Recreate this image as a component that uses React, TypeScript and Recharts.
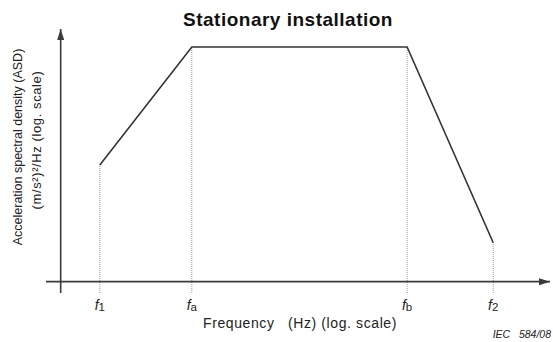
import React from 'react';
import { LineChart, Line, XAxis, YAxis, ReferenceLine } from 'recharts';

// frequency points f1, fa, fb, f2 (log units along the axis)
const bandNames = ['1', 'a', 'b', '2'];
const logFreq = [0.4, 1.34, 3.54, 4.42];
// ASD level at each point (log units)
const logAsd = [4.62, 9.29, 9.29, 1.54];

const data = logFreq.map((x, i) => ({ x, y: logAsd[i] }));

const font = '"Liberation Sans", Arial, sans-serif';
const axisColor = '#3a3a3a';

const FreqTick = (props: any) => {
  const { x, y, payload } = props;
  const i = logFreq.indexOf(payload.value);
  return (
    <text x={x} y={y + 17} textAnchor="middle" fontFamily={font} fill="#222">
      <tspan fontStyle="italic" fontSize={14}>f</tspan>
      <tspan fontSize={11.5} dy={1}>{bandNames[i]}</tspan>
    </text>
  );
};

const ArrowLine = (dir: 'right' | 'up') => (props: any) => {
  const { x1, y1, x2, y2 } = props;
  const tipX = dir === 'right' ? Math.max(x1, x2) : x1;
  const tipY = dir === 'up' ? Math.min(y1, y2) : y1;
  const head =
    dir === 'right'
      ? `${tipX},${tipY} ${tipX - 11},${tipY - 3.5} ${tipX - 11},${tipY + 3.5}`
      : `${tipX},${tipY} ${tipX - 3.5},${tipY + 11} ${tipX + 3.5},${tipY + 11}`;
  return (
    <g>
      <line x1={x1} y1={y1} x2={x2} y2={y2} stroke={axisColor} strokeWidth={1.6} />
      <polygon points={head} fill={axisColor} />
    </g>
  );
};

export default function App() {
  return (
    <div style={{ position: 'absolute', left: 0, top: 0, width: 553, height: 342, background: '#fff' }}>
      <LineChart width={553} height={342} data={data} margin={{ top: 29, right: 3, bottom: 19, left: 46 }}>
        <XAxis
          type="number"
          dataKey="x"
          domain={[-0.15, 5]}
          ticks={logFreq}
          allowDataOverflow
          axisLine={false}
          tickLine={false}
          tickSize={0}
          tickMargin={0}
          height={30}
          interval={0}
          tick={<FreqTick />}
        />
        <YAxis type="number" domain={[-0.45, 10]} allowDataOverflow hide />
        {logFreq.map((f, i) => (
          <ReferenceLine
            key={i}
            segment={[{ x: f, y: -0.45 }, { x: f, y: logAsd[i] }]}
            stroke="#9a9a9a"
            strokeWidth={1}
            strokeDasharray="1 1"
            ifOverflow="visible"
          />
        ))}
        <ReferenceLine
          segment={[{ x: -0.15, y: 0 }, { x: 5, y: 0 }]}
          ifOverflow="visible"
          shape={ArrowLine('right')}
        />
        <ReferenceLine
          segment={[{ x: 0, y: -0.45 }, { x: 0, y: 10 }]}
          ifOverflow="visible"
          shape={ArrowLine('up')}
        />
        <Line
          type="linear"
          dataKey="y"
          stroke="#333"
          strokeWidth={1.6}
          dot={false}
          activeDot={false}
          isAnimationActive={false}
        />
      </LineChart>
      <svg width={553} height={342} style={{ position: 'absolute', left: 0, top: 0, pointerEvents: 'none' }}>
        <text x={288} y={26} textAnchor="middle" fontFamily={font} fontWeight="bold" fontSize={19} letterSpacing={0.5} fill="#111">
          Stationary installation
        </text>
        <text x={300} y={328} textAnchor="middle" fontFamily={font} fontSize={14} letterSpacing={0.6} fill="#222" xmlSpace="preserve">
          Frequency   (Hz) (log. scale)
        </text>
        <text x={551} y={338} textAnchor="end" fontFamily={font} fontStyle="italic" fontSize={10.5} fill="#222" xmlSpace="preserve">
          IEC   584/08
        </text>
        <text
          transform="translate(22,147) rotate(-90)"
          textAnchor="middle"
          fontFamily={font}
          fontSize={12.5}
          fill="#222"
        >
          Acceleration spectral density (ASD)
        </text>
        <text
          transform="translate(41,140) rotate(-90)"
          textAnchor="middle"
          fontFamily={font}
          fontSize={13}
          letterSpacing={0.6}
          fill="#222"
        >
          (m/s²)²/Hz (log. scale)
        </text>
      </svg>
    </div>
  );
}
